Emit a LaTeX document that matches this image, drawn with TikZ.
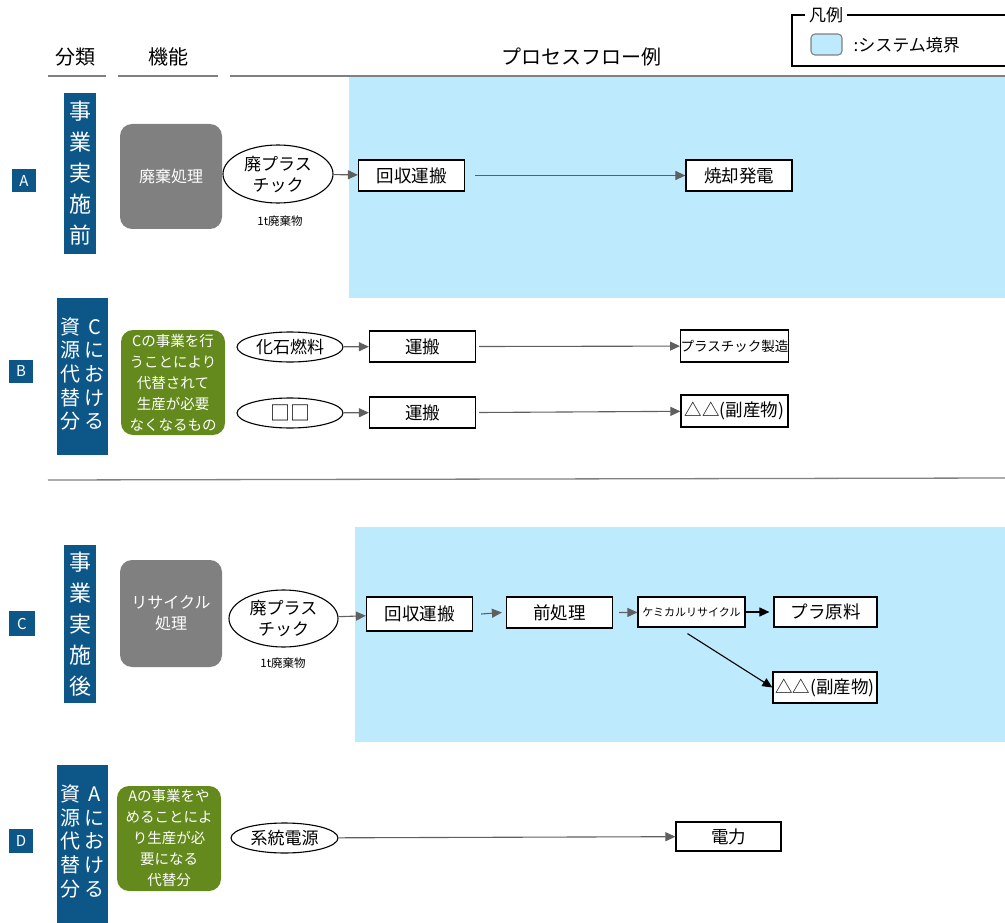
\documentclass[tikz,border=0pt]{standalone}
\usepackage{fontspec}
\setmainfont{Noto Sans CJK JP}
\usetikzlibrary{arrows.meta,shapes.geometric}
\definecolor{sysblue}{RGB}{190,234,253}
\definecolor{catblue}{RGB}{12,86,136}
\definecolor{funcgreen}{RGB}{100,138,30}
\definecolor{funcgray}{RGB}{128,128,128}
\definecolor{flowgray}{RGB}{95,95,95}
\newcommand\fsz[2]{\fontsize{#1}{#2}\selectfont}
\tikzset{
  tag/.style={fill=catblue,text=white,minimum width=24,minimum height=23,inner sep=0,font=\fsz{15}{16}},
  catbox/.style={fill=catblue,text=white,inner sep=0,align=center},
  func/.style={rounded corners=12pt,text=white,align=center,minimum width=102,minimum height=105,inner sep=0},
  item/.style={ellipse,draw,line width=1.1pt,fill=white,align=center,inner sep=0,minimum height=30,font=\fsz{17}{21}},
  proc/.style={draw,line width=1.2pt,fill=white,minimum width=106,minimum height=31,inner sep=0,font=\fsz{17.5}{19}},
  note/.style={font=\fsz{11.5}{13}},
  head/.style={font=\fsz{20}{22}},
  hline/.style={draw=gray,line width=1.5pt},
  flow/.style={draw=flowgray,line width=1.1pt,-{Triangle[length=10pt,width=9pt]}},
  bflow/.style={draw=black,line width=1.1pt,-{Triangle[length=10pt,width=9pt]}}
}
\begin{document}
\begin{tikzpicture}[x=1pt,y=-1pt]
\useasboundingbox (0,0) rectangle (1005,923);
\fill[sysblue] (349,76) rectangle (1005,298);
\fill[sysblue] (355,527) rectangle (1005,742);

\node[head] (hcat) at (76,57) {分類};
\node[head] (hfunc) at (168,57) {機能};
\node[head] (hflow) at (581,57) {プロセスフロー例};
\draw[hline] (48,76) -- (106,76);
\draw[hline] (118,76) -- (218,76);
\draw[hline] (230,76) -- (1005,76);

\node[font=\fsz{17}{18}] (lgtitle) at (826,15) {凡例};
\draw[line width=1.1pt] (lgtitle.west) -- (792,15) -- (792,66) -- (1005,66);
\draw[line width=1.1pt] (lgtitle.east) -- (1005,15);
\draw[fill=sysblue,draw=gray,line width=1.1pt,rounded corners=4pt] (811,34) rectangle (842,55);
\node[anchor=west,font=\fsz{17}{18}] (lgtext) at (850,45) {:システム境界};

\node[tag] (tagA) at (24,181) {A};
\node[catbox,minimum width=32,minimum height=161,font=\fsz{22}{31}] (catA) at (80,173.5) {事\\業\\実\\施\\前};
\node[func,fill=funcgray,font=\fsz{16}{20}] (funcA) at (171,176.5) {廃棄処理};
\node[item,minimum width=110,minimum height=58] (plaA) at (278,174) {廃プラス\\チック};
\node[note] (wasteA) at (280,221) {1t廃棄物};
\node[proc] (colA) at (411.5,175.5) {回収運搬};
\node[proc] (burnA) at (739,175.5) {焼却発電};
\draw[flow] (plaA) -- (colA);
\draw[flow] ([xshift=10pt]colA.east) -- (burnA);

\node[tag] (tagB) at (21,371.5) {B};
\node[catbox,minimum width=51,minimum height=157,font=\fsz{20}{23.5}] (catB) at (82.5,376.5)
  {\begin{tabular}{@{}c@{\hspace{4pt}}c@{}}資&C\\源&に\\代&お\\替&け\\分&る\end{tabular}};
\node[func,fill=funcgreen,minimum width=104,font=\fsz{14.5}{21}] (funcB) at (173,382.5)
  {Cの事業を行\\うことにより\\代替されて\\生産が必要\\なくなるもの};
\node[item,minimum width=106] (fossB) at (290,347) {化石燃料};
\node[proc] (carB) at (422.5,346.5) {運搬};
\node[proc,minimum width=107,minimum height=32,font=\fsz{13.5}{15}] (makeB) at (734.5,346) {プラスチック製造};
\node[item,minimum width=106] (sqB) at (290,413) {\fsz{20}{20}□□};
\node[proc] (carBB) at (422.5,412.5) {運搬};
\node[proc,minimum width=107,minimum height=32] (byB) at (734.5,411) {△△(副産物)};
\draw[flow] (fossB) -- (carB);
\draw[flow] ([xshift=3pt]carB.east) -- (makeB);
\draw[flow] (sqB) -- (carBB);
\draw[flow] ([xshift=3pt]carBB.east) -- (byB);

\draw[draw=gray,line width=1.3pt] (48,480) -- (1005,478);

\node[tag,minimum width=26,minimum height=25] (tagC) at (22,623.5) {C};
\node[catbox,minimum width=32,minimum height=158,font=\fsz{22}{31}] (catC) at (80,624) {事\\業\\実\\施\\後};
\node[func,fill=funcgray,minimum height=107,font=\fsz{16}{21}] (funcC) at (171,613.5) {リサイクル\\処理};
\node[item,minimum width=109,minimum height=57] (plaC) at (283.5,618.5) {廃プラス\\チック};
\node[note] (wasteC) at (283,663) {1t廃棄物};
\node[proc,minimum height=34] (colC) at (419.5,614) {回収運搬};
\node[proc] (preC) at (559.5,612.5) {前処理};
\node[proc,minimum width=107,minimum height=30,font=\fsz{11}{13}] (chemC) at (691.5,612) {ケミカルリサイクル};
\node[proc,minimum width=103,minimum height=30] (rawC) at (825.5,612) {プラ原料};
\node[proc,minimum width=104] (byC) at (825,687.5) {△△(副産物)};
\draw[flow] (plaC) -- (colC);
\draw[flow] ([xshift=8pt]colC.east) -- ([xshift=-4pt]preC.west);
\draw[flow] ([xshift=6pt]preC.east) -- (chemC);
\draw[bflow] (chemC) -- ([xshift=-4pt]rawC.west);
\draw[bflow] ([shift={(-4pt,-6pt)}]chemC.south) -- (byC.west);

\node[tag,minimum height=24] (tagD) at (21,841) {D};
\node[catbox,minimum width=51,minimum height=158,font=\fsz{20}{23.5}] (catD) at (82.5,844)
  {\begin{tabular}{@{}c@{\hspace{4pt}}c@{}}資&A\\源&に\\代&お\\替&け\\分&る\end{tabular}};
\node[func,fill=funcgreen,minimum width=104,font=\fsz{14.5}{21}] (funcD) at (169,838.5)
  {Aの事業をや\\めることによ\\り生産が必\\要になる\\代替分};
\node[item,minimum width=107] (gridD) at (284.5,838) {系統電源};
\node[proc,minimum width=105,minimum height=29] (powD) at (728.5,836.5) {電力};
\draw[flow] (gridD) -- (powD);
\end{tikzpicture}
\end{document}
